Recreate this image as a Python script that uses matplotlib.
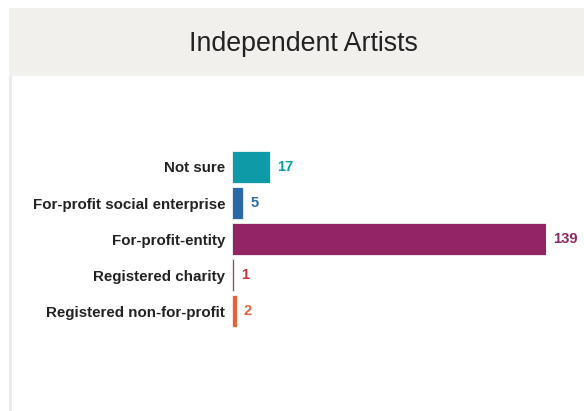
import matplotlib.pyplot as plt
from matplotlib.patches import Rectangle

plt.rcParams['font.family'] = ['Liberation Sans', 'DejaVu Sans']

# data, top to bottom
categories = ['Not sure', 'For-profit social enterprise', 'For-profit-entity',
              'Registered charity', 'Registered non-for-profit']
counts = [17, 5, 139, 1, 2]
colors = ['#0e9aa7', '#2a68a6', '#942565', '#c23439', '#e3643c']

W, H = 584, 411
fig = plt.figure(figsize=(W / 100, H / 100), dpi=100)
fig.patch.set_facecolor('white')

# header band and left border
fig.add_artist(Rectangle((9 / W, 1 - 76 / H), 1, 68 / H, transform=fig.transFigure,
                         facecolor='#f1f0ec', edgecolor='none', zorder=0))
fig.add_artist(Rectangle((9 / W, 0), 3 / W, 1 - 76 / H, transform=fig.transFigure,
                         facecolor='#ebebeb', edgecolor='none', zorder=0))
fig.text(303 / W, 1 - 44 / H, 'Independent Artists', ha='center', va='center',
         fontsize=19.3, color='#222222')

ax = fig.add_axes([232 / W, 1 - 329 / H, (546 - 232) / W, 180 / H])
ax.set_facecolor('none')
ypos = list(range(len(categories)))
ax.barh(ypos, counts, height=0.9, color=colors, edgecolor='#f4f4f4', linewidth=0.6)
ax.set_xlim(0, 139)
ax.set_ylim(len(categories) - 0.5, -0.5)
ax.set_yticks(ypos)
ax.set_yticklabels(categories, fontsize=10.9, fontweight='bold', color='#222222')
ax.tick_params(axis='y', length=0, pad=5)
ax.set_xticks([])
for s in ax.spines.values():
    s.set_visible(False)

for y, v, c in zip(ypos, counts, colors):
    ax.annotate(str(v), (v, y), xytext=(5, 0), textcoords='offset points',
                ha='left', va='center', fontsize=10.6, fontweight='bold', color=c,
                annotation_clip=False)

fig.savefig('out.png', dpi=100)
